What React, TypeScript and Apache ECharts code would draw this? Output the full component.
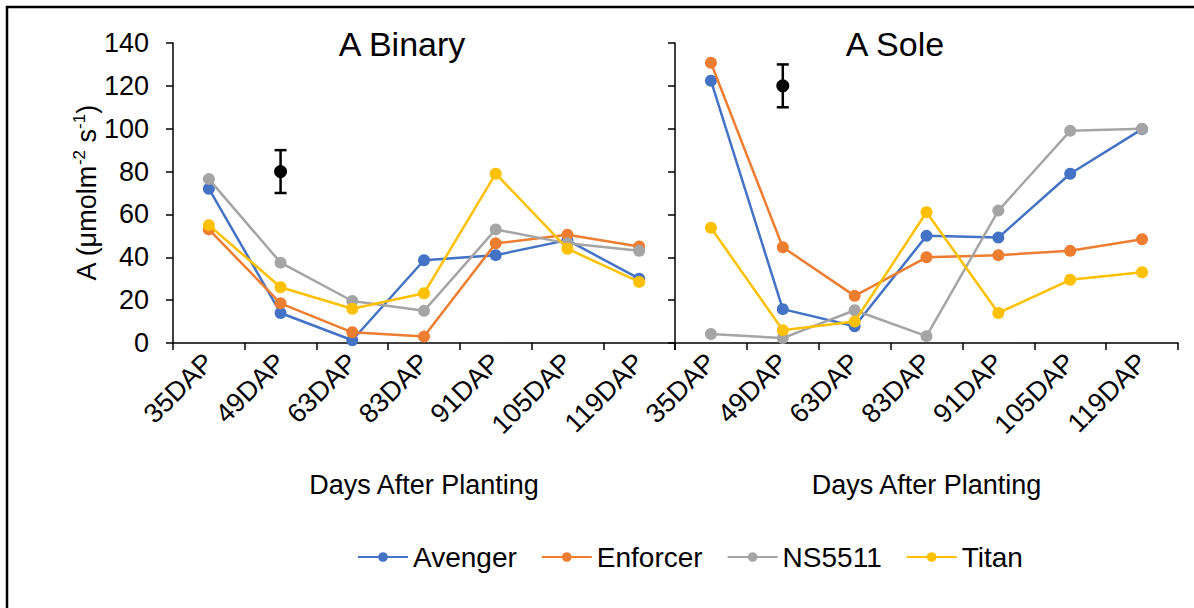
import React, { useEffect, useRef } from "react";
import * as echarts from "echarts";

const categories = ["35DAP", "49DAP", "63DAP", "83DAP", "91DAP", "105DAP", "119DAP"];
const seriesNames = ["Avenger", "Enforcer", "NS5511", "Titan"];
const colors = ["#4472C4", "#ED7D31", "#A5A5A5", "#FFC000"];

const binaryAvenger = [72, 14, 1.3, 38.6, 41, 48, 30];
const binaryEnforcer = [53, 18.5, 5, 3, 46.5, 50.5, 45];
const binaryNS5511 = [76.5, 37.5, 19.6, 15, 53, 46.5, 43];
const binaryTitan = [55, 26, 16, 23.2, 79, 44, 28.5];

const soleAvenger = [122.4, 15.8, 7.8, 50, 49.2, 79, 99.8];
const soleEnforcer = [130.8, 44.7, 22, 40, 41, 43, 48.4];
const soleNS5511 = [4.2, 2.3, 15.3, 3.2, 61.8, 99, 100];
const soleTitan = [53.8, 6, 10, 61, 14, 29.5, 33];

// [category, mean, low, high]
const binaryError = [["49DAP", 80, 70, 90]];
const soleError = [["49DAP", 120, 110, 130]];

const yTicks = { min: 0, max: 140, interval: 20 };

const FONT = "Liberation Sans, Arial, sans-serif";

export default function App() {
  const ref = useRef<HTMLDivElement>(null);

  useEffect(() => {
    if (!ref.current) return;
    const chart = echarts.init(ref.current, null, { renderer: "svg" });

    const binaryData = [binaryAvenger, binaryEnforcer, binaryNS5511, binaryTitan];
    const soleData = [soleAvenger, soleEnforcer, soleNS5511, soleTitan];

    const lineSeries = (data: number[][], idx: number) =>
      data.map((d, i) => ({
        name: seriesNames[i],
        type: "line",
        xAxisIndex: idx,
        yAxisIndex: idx,
        data: d,
        symbol: "circle",
        symbolSize: 12,
        lineStyle: { color: colors[i], width: 2.5 },
        itemStyle: { color: colors[i] },
        z: 2 + i,
      }));

    const errorSeries = (data: any[], idx: number) => ({
      type: "custom",
      xAxisIndex: idx,
      yAxisIndex: idx,
      data,
      encode: { x: 0, y: 1 },
      z: 10,
      renderItem: (params: any, api: any) => {
        const c = api.coord([api.value(0), api.value(1)]);
        const lo = api.coord([api.value(0), api.value(2)]);
        const hi = api.coord([api.value(0), api.value(3)]);
        const st = { stroke: "#000", lineWidth: 2.5 };
        return {
          type: "group",
          children: [
            { type: "line", shape: { x1: c[0], y1: lo[1], x2: c[0], y2: hi[1] }, style: st },
            { type: "line", shape: { x1: c[0] - 6, y1: lo[1], x2: c[0] + 6, y2: lo[1] }, style: st },
            { type: "line", shape: { x1: c[0] - 6, y1: hi[1], x2: c[0] + 6, y2: hi[1] }, style: st },
            { type: "circle", shape: { cx: c[0], cy: c[1], r: 6.5 }, style: { fill: "#000" } },
          ],
        };
      },
    });

    const xAxisBase = (idx: number) => ({
      type: "category",
      gridIndex: idx,
      data: categories,
      boundaryGap: true,
      axisLine: { lineStyle: { color: "#000", width: 1.5 } },
      axisTick: { show: true, length: 7, alignWithLabel: false, lineStyle: { color: "#000", width: 1.5 } },
      axisLabel: { rotate: 45, fontSize: 27, color: "#000", fontFamily: FONT, margin: 15, interval: 0 },
      name: "Days After Planting",
      nameLocation: "middle",
      nameGap: 128,
      nameTextStyle: { fontSize: 27, color: "#000", fontFamily: FONT },
    });

    const yAxisBase = (idx: number) => ({
      type: "value",
      gridIndex: idx,
      min: yTicks.min,
      max: yTicks.max,
      interval: yTicks.interval,
      splitLine: { show: false },
      axisLine: { show: true, lineStyle: { color: "#000", width: 1.5 } },
      axisTick: { show: true, length: 7, lineStyle: { color: "#000", width: 1.5 } },
      axisLabel: {
        show: idx === 0,
        fontSize: 27,
        color: "#000",
        fontFamily: FONT,
        margin: 24,
      },
      ...(idx === 0
        ? {
            name: "{n|A (μmolm}{s|-2}{n| s}{s|-1}{n|)}",
            nameLocation: "middle",
            nameGap: 70,
            nameRotate: 90,
            nameTextStyle: {
              rich: {
                n: { fontSize: 27, color: "#000", fontFamily: FONT },
                s: { fontSize: 17, color: "#000", fontFamily: FONT, padding: [0, 0, 14, 0] },
              },
            },
          }
        : {}),
    });

    const titleStyle = { fontSize: 34, fontWeight: "normal", color: "#000", fontFamily: FONT };

    const option: any = {
      animation: false,
      textStyle: { fontFamily: FONT },
      title: [
        { text: "A Binary", left: 397, top: 22, textAlign: "center", textStyle: titleStyle },
        { text: "A Sole", left: 890, top: 22, textAlign: "center", textStyle: titleStyle },
      ],
      legend: {
        data: seriesNames,
        bottom: 32,
        left: 352,
        itemWidth: 50,
        itemHeight: 12,
        itemGap: 24,
        textStyle: { fontSize: 28, color: "#000", fontFamily: FONT },
      },
      grid: [
        { left: 173, top: 43, width: 502, height: 300 },
        { left: 675, top: 43, width: 503, height: 300 },
      ],
      xAxis: [xAxisBase(0), xAxisBase(1)],
      yAxis: [yAxisBase(0), yAxisBase(1)],
      graphic: [
        {
          type: "rect",
          shape: { x: 7, y: 7, width: 1220, height: 640 },
          style: { fill: "none", stroke: "#000", lineWidth: 2.5 },
          silent: true,
        },
      ],
      series: [
        ...lineSeries(binaryData, 0),
        ...lineSeries(soleData, 1),
        errorSeries(binaryError, 0),
        errorSeries(soleError, 1),
      ],
    };

    chart.setOption(option);
    return () => chart.dispose();
  }, []);

  return (
    <div
      ref={ref}
      style={{ position: "fixed", left: 0, top: 0, width: 1194, height: 608, background: "#fff" }}
    />
  );
}
